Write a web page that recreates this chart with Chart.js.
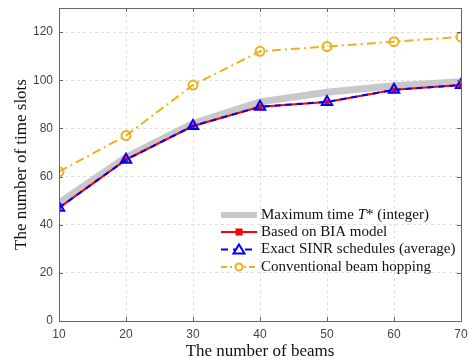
<!DOCTYPE html>
<html><head><meta charset="utf-8">
<script src="https://cdn.jsdelivr.net/npm/chart.js@4"></script>
<style>html,body{margin:0;padding:0;background:#fff}#c{display:block}</style>
</head><body>
<canvas id="c" width="469" height="362"></canvas>
<script>
const beams = [10, 20, 30, 40, 50, 60, 70];
const maxTimeInt = [49, 68, 82, 91, 95, 97.7, 99.4];
const biaModel = [47, 67, 81, 89, 91, 96, 98];
const exactSinr = [47, 67, 81, 89, 91, 96, 98];
const conventional = [62, 77, 98, 112, 114, 116, 118];
const yTicks = [0, 20, 40, 60, 80, 100, 120];
const legendLabels = ['Maximum time T* (integer)', 'Based on BIA model', 'Exact SINR schedules (average)', 'Conventional beam hopping'];

const pts = arr => beams.map((b, i) => ({x: b, y: arr[i]}));
const YEL = '#EDB120';
const SERIF = '"Liberation Serif", "Times New Roman", serif';

const boxPlugin = {
  id: 'box',
  afterDraw(chart) {
    const {ctx, chartArea: a} = chart;
    ctx.save();
    ctx.strokeStyle = '#666';
    ctx.lineWidth = 1;
    ctx.strokeRect(Math.round(a.left) + 0.5, Math.round(a.top) + 0.5, Math.round(a.right - a.left), Math.round(a.bottom - a.top));
    const xs = chart.scales.x, ys = chart.scales.y;
    ctx.beginPath();
    beams.forEach(v => {
      const px = Math.round(xs.getPixelForValue(v)) + 0.5;
      ctx.moveTo(px, a.bottom); ctx.lineTo(px, a.bottom - 4);
      ctx.moveTo(px, a.top); ctx.lineTo(px, a.top + 4);
    });
    yTicks.forEach(v => {
      const py = Math.round(ys.getPixelForValue(v)) + 0.5;
      ctx.moveTo(a.left, py); ctx.lineTo(a.left + 4, py);
      ctx.moveTo(a.right, py); ctx.lineTo(a.right - 4, py);
    });
    ctx.stroke();

    // legend
    const x0 = 221, x1 = 257, tx = 261;
    const rows = [215, 232, 249.5, 267];
    ctx.textBaseline = 'middle';
    ctx.lineCap = 'butt';
    ctx.strokeStyle = '#c8c8c8'; ctx.lineWidth = 6;
    ctx.beginPath(); ctx.moveTo(x0, rows[0]); ctx.lineTo(x1, rows[0]); ctx.stroke();
    ctx.strokeStyle = '#ff0000'; ctx.lineWidth = 2;
    ctx.beginPath(); ctx.moveTo(x0, rows[1]); ctx.lineTo(x1, rows[1]); ctx.stroke();
    ctx.fillStyle = '#ff0000'; ctx.fillRect(235.5, rows[1] - 3.5, 7, 7);
    ctx.strokeStyle = '#0000ff'; ctx.lineWidth = 2; ctx.setLineDash([7, 5]);
    ctx.beginPath(); ctx.moveTo(x0, rows[2]); ctx.lineTo(x1, rows[2]); ctx.stroke();
    ctx.setLineDash([]);
    ctx.fillStyle = '#fff';
    ctx.beginPath(); ctx.moveTo(239, rows[2] - 5); ctx.lineTo(244.5, rows[2] + 4); ctx.lineTo(233.5, rows[2] + 4); ctx.closePath(); ctx.fill(); ctx.stroke();
    ctx.strokeStyle = YEL; ctx.lineWidth = 2; ctx.setLineDash([6, 3, 2, 3]);
    ctx.beginPath(); ctx.moveTo(x0, rows[3]); ctx.lineTo(x1, rows[3]); ctx.stroke();
    ctx.setLineDash([]);
    ctx.fillStyle = '#fff';
    ctx.beginPath(); ctx.arc(239, rows[3], 3.5, 0, Math.PI * 2); ctx.fill(); ctx.stroke();
    ctx.fillStyle = '#111';
    ctx.font = '15px ' + SERIF;
    let t = 'Maximum time ';
    ctx.fillText(t, tx, rows[0]);
    let w = ctx.measureText(t).width;
    ctx.font = 'italic 15px ' + SERIF;
    ctx.fillText('T', tx + w, rows[0]);
    w += ctx.measureText('T').width;
    ctx.font = '15px ' + SERIF;
    ctx.fillText('* (integer)', tx + w, rows[0]);
    for (let i = 1; i < 4; i++) ctx.fillText(legendLabels[i], tx, rows[i]);
    ctx.restore();
  }
};

new Chart(document.getElementById('c'), {
  type: 'line',
  data: {
    datasets: [
      {label: legendLabels[0], data: pts(maxTimeInt), borderColor: '#c8c8c8', borderWidth: 7, pointRadius: 0, order: 4},
      {label: legendLabels[3], data: pts(conventional), borderColor: YEL, borderWidth: 2, borderDash: [9, 4, 2, 4],
        pointStyle: 'circle', pointRadius: 4.5, pointBorderWidth: 2, pointBackgroundColor: 'rgba(255,255,255,0)', pointBorderColor: YEL, order: 3},
      {label: legendLabels[1], data: pts(biaModel), borderColor: '#ff0000', borderWidth: 2,
        pointStyle: 'rect', pointRadius: 3.5, pointBackgroundColor: '#ff0000', pointBorderColor: '#ff0000', pointBorderWidth: 0, order: 2},
      {label: legendLabels[2], data: pts(exactSinr), borderColor: '#0000ff', borderWidth: 2, borderDash: [6, 5],
        pointStyle: 'triangle', pointRadius: 6, pointBorderWidth: 2, pointBackgroundColor: 'rgba(255,255,255,0)', pointBorderColor: '#0000ff', order: 1}
    ]
  },
  options: {
    responsive: false,
    animation: false,
    layout: {padding: {left: 0, right: 7, top: 8, bottom: 0}},
    plugins: {legend: {display: false}, tooltip: {enabled: false}},
    scales: {
      x: {
        type: 'linear', min: 10, max: 70,
        afterFit: s => { s.height = 41; s.paddingLeft = 0; s.paddingRight = 0; },
        afterBuildTicks: s => { s.ticks = beams.map(v => ({value: v})); },
        grid: {color: '#e0e0e0', drawTicks: false},
        border: {display: false, dash: [3, 3]},
        ticks: {color: '#444', font: {family: 'Liberation Sans, Arial', size: 12}, padding: 6, maxRotation: 0},
        title: {display: true, text: 'The number of beams', color: '#111', font: {family: SERIF, size: 17}, padding: {top: 0, bottom: 0}}
      },
      y: {
        min: 0, max: 130,
        afterFit: s => { s.width = 59; s.paddingTop = 0; s.paddingBottom = 0; },
        afterBuildTicks: s => { s.ticks = yTicks.map(v => ({value: v})); },
        grid: {color: '#e0e0e0', drawTicks: false},
        border: {display: false, dash: [3, 3]},
        ticks: {color: '#444', font: {family: 'Liberation Sans, Arial', size: 12}, padding: 6},
        title: {display: true, text: 'The number of time slots', color: '#111', font: {family: SERIF, size: 17}, padding: {top: 11, bottom: 0}}
      }
    }
  },
  plugins: [boxPlugin]
});
</script>
</body></html>
